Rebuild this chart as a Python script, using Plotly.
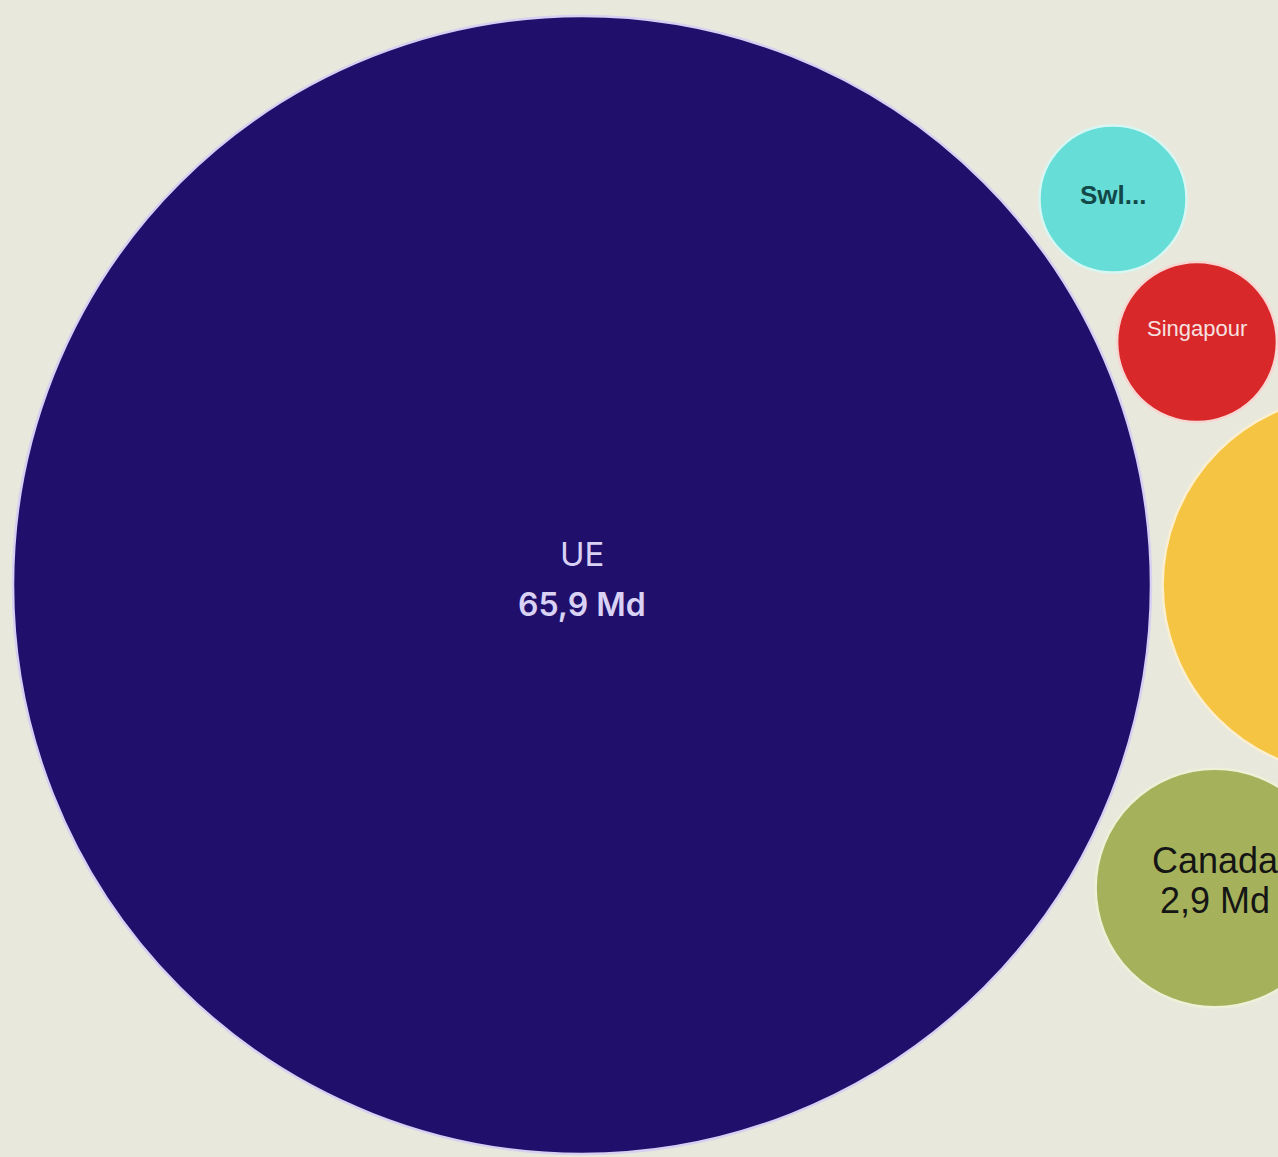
import math
import plotly.graph_objects as go

# Trade amounts in billions (Md)
names = ["UE", "Royaume-Uni", "Canada", "Singapour", "Swl..."]
values = [65.9, 7.3, 2.9, 1.3, 1.1]
value_labels = ["65,9 Md", "7,3 Md", "2,9 Md", "", ""]

# Packed-bubble layout: centre of each bubble in plot units
centers_x = [582, 1352, 1215, 1197, 1113]
centers_y = [585, 585, 888, 342, 199]

fill_colors = ["#21106b", "#f5c443", "#a5b25b", "#d8282a", "#66ddd6"]
edge_colors = ["#d6d0f2", "#fbefd0", "#eef0d8", "#f7d6d2", "#d8f6f2"]
text_colors = ["#d9d2f5", "#2a2a2a", "#151515", "#f6e2e0", "#134848"]

W, H = 1278, 1157
BG = "#e8e8dc"

# Bubble area proportional to value
scale = 569 / math.sqrt(max(values))
radii = [scale * math.sqrt(v) for v in values]

fig = go.Figure()

shapes = []
for cx, cy, r, fc, ec in zip(centers_x, centers_y, radii, fill_colors, edge_colors):
    shapes.append(dict(
        type="circle", xref="x", yref="y",
        x0=cx - r, x1=cx + r, y0=cy - r, y1=cy + r,
        fillcolor=fc, line=dict(color=ec, width=2.5), layer="below",
    ))

annotations = []
# UE label
annotations += [
    dict(x=centers_x[0], y=centers_y[0], yshift=31, text=names[0], showarrow=False,
         font=dict(family="Inter, Roboto, sans-serif", size=33, color=text_colors[0])),
    dict(x=centers_x[0], y=centers_y[0], yshift=-19, text=value_labels[0], showarrow=False,
         font=dict(family="Inter, Roboto, sans-serif", size=32, color=text_colors[0], weight=600)),
]
# Royaume-Uni label (centre lies beyond the right edge)
annotations += [
    dict(x=centers_x[1], y=centers_y[1], yshift=22, text=names[1], showarrow=False,
         font=dict(family="Liberation Sans, Arial, sans-serif", size=36, color=text_colors[1])),
    dict(x=centers_x[1], y=centers_y[1], yshift=-20, text=value_labels[1], showarrow=False,
         font=dict(family="Liberation Sans, Arial, sans-serif", size=36, color=text_colors[1])),
]
# Canada label
annotations += [
    dict(x=centers_x[2], y=centers_y[2], yshift=28, text=names[2], showarrow=False,
         font=dict(family="Liberation Sans, Arial, sans-serif", size=36, color=text_colors[2])),
    dict(x=centers_x[2], y=centers_y[2], yshift=-12, text=value_labels[2], showarrow=False,
         font=dict(family="Liberation Sans, Arial, sans-serif", size=36, color=text_colors[2])),
]
# Small bubbles: name only
annotations += [
    dict(x=centers_x[3], y=centers_y[3], yshift=14, text=names[3], showarrow=False,
         font=dict(family="Liberation Sans, Arial, sans-serif", size=22, color=text_colors[3])),
    dict(x=centers_x[4], y=centers_y[4], yshift=4, text=names[4], showarrow=False,
         font=dict(family="Liberation Sans, Arial, sans-serif", size=26, color=text_colors[4], weight=600)),
]

fig.update_layout(
    width=W, height=H,
    margin=dict(l=0, r=0, t=0, b=0),
    paper_bgcolor=BG, plot_bgcolor=BG,
    shapes=shapes, annotations=annotations,
    showlegend=False,
    xaxis=dict(range=[0, W], visible=False, fixedrange=True),
    yaxis=dict(range=[H, 0], visible=False, fixedrange=True),
)

fig.write_html("out.html", config={"displayModeBar": False})
